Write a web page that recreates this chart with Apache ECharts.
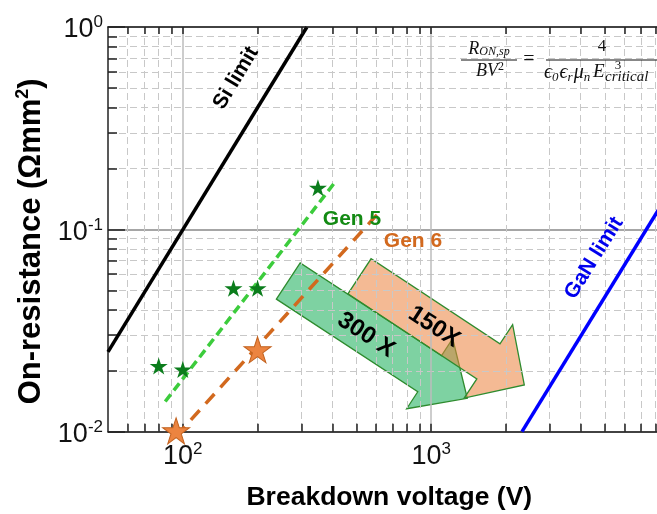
<!DOCTYPE html>
<html><head><meta charset="utf-8">
<script src="https://cdn.jsdelivr.net/npm/echarts@6/dist/echarts.min.js"></script>
<style>html,body{margin:0;padding:0;background:#fff}#c{width:657px;height:514px}</style>
</head><body><div id="c"></div>
<script>
// ---- data ----
const xMajorTicks = [100, 1000, 10000];
const xLabelTicks = [100, 1000];
const xMinorTicks = [60, 70, 80, 90, 200, 300, 400, 500, 600, 700, 800, 900, 2000, 3000, 4000, 5000, 6000, 7000, 8000, 9000];
const yMajorTicks = [0.01, 0.1, 1];
const yMinorTicks = [0.02, 0.03, 0.04, 0.05, 0.06, 0.07, 0.08, 0.09, 0.2, 0.3, 0.4, 0.5, 0.6, 0.7, 0.8, 0.9];
const siLimit = [[50, 0.0248], [316, 1.0]];
const ganLimit = [[2320, 0.01], [10000, 0.185]];
const gen5Fit = [[85, 0.0141], [407, 0.169]];
const gen6Fit = [[94, 0.0095], [604, 0.118]];
const gen5Devices = [[80, 0.0211], [100, 0.0203], [160, 0.0511], [200, 0.0511], [350, 0.1605]];
const gen6Devices = [[94, 0.0101], [200, 0.0254]];

const FONT = 'Liberation Sans, Arial, Helvetica, sans-serif';
const SERIF = 'Liberation Serif, DejaVu Serif, Times New Roman, serif';
const STAR = 'path://M50,0 L61.2,34.5 L97.6,34.5 L68.2,55.9 L79.4,90.5 L50,69.1 L20.6,90.5 L31.8,55.9 L2.4,34.5 L38.8,34.5 Z';

function powLabel(v) {
  const e = Math.round(Math.log10(v));
  return '{b|10}{s|' + e + '}';
}
const powRich = {
  b: { fontSize: 27, fontFamily: FONT, color: '#111', lineHeight: 26, padding: [6, 0, 0, 0] },
  s: { fontSize: 17, fontFamily: FONT, color: '#111', verticalAlign: 'top', lineHeight: 17 }
};

const chart = echarts.init(document.getElementById('c'), null, { renderer: 'canvas' });

const axisLine = { show: true, lineStyle: { color: '#222', width: 1.5 } };
const xRange = { type: 'log', logBase: 10, min: 50, max: 10000 };
const yRange = { type: 'log', logBase: 10, min: 0.01, max: 1 };

function blockArrow(tail, tip, shaftHW, headLen, headHW) {
  const dx = tip[0] - tail[0], dy = tip[1] - tail[1];
  const L = Math.hypot(dx, dy), ux = dx / L, uy = dy / L, px = -uy, py = ux;
  const bx = tip[0] - ux * headLen, by = tip[1] - uy * headLen;
  return [
    [tail[0] + px * shaftHW, tail[1] + py * shaftHW],
    [bx + px * shaftHW, by + py * shaftHW],
    [bx + px * headHW, by + py * headHW],
    tip,
    [bx - px * headHW, by - py * headHW],
    [bx - px * shaftHW, by - py * shaftHW],
    [tail[0] - px * shaftHW, tail[1] - py * shaftHW]
  ];
}
const deg = Math.PI / 180;

const option = {
  animation: false,
  backgroundColor: '#fff',
  grid: { left: 108, top: 27, width: 571.6, height: 404.7, containLabel: false, outerBoundsMode: 'none' },
  xAxis: [
    Object.assign({}, xRange, {
      position: 'bottom',
      axisLine: axisLine,
      axisTick: { show: true, inside: true, length: 8, customValues: xMajorTicks, lineStyle: { color: '#222', width: 1.5 } },
      axisLabel: { customValues: xLabelTicks, formatter: powLabel, rich: powRich, margin: 9 },
      splitLine: { show: true, lineStyle: { color: '#bdbdbd', width: 1.5 } },
      name: 'Breakdown voltage (V)', nameLocation: 'middle', nameGap: 52,
      nameTextStyle: { fontFamily: FONT, fontWeight: 'bold', fontSize: 26.5, color: '#000', padding: [0, 9, 0, 0] },
      z: 3
    }),
    Object.assign({}, xRange, {
      position: 'bottom',
      axisLine: { show: false },
      axisTick: { show: true, inside: true, length: 8, customValues: xMinorTicks, lineStyle: { color: '#222', width: 1.5 } },
      axisLabel: { show: false },
      splitLine: { show: true, lineStyle: { color: '#c8c8c8', width: 1, type: [7, 4] } },
      z: 3
    }),
    Object.assign({}, xRange, {
      position: 'top',
      axisLine: axisLine,
      axisTick: { show: true, inside: true, length: 7, customValues: xMajorTicks.concat(xMinorTicks), lineStyle: { color: '#222', width: 1.5 } },
      axisLabel: { show: false },
      splitLine: { show: false },
      z: 5
    })
  ],
  yAxis: [
    Object.assign({}, yRange, {
      position: 'left',
      axisLine: axisLine,
      axisTick: { show: true, inside: true, length: 17, customValues: yMajorTicks, lineStyle: { color: '#222', width: 1.5 } },
      axisLabel: { customValues: yMajorTicks, formatter: powLabel, rich: powRich, margin: 5 },
      splitLine: { show: true, lineStyle: { color: '#888', width: 1.5 } },
      name: '{t|On-resistance (Ωmm}{u|2}{t|)}', nameLocation: 'middle', nameGap: 60,
      nameTextStyle: {
        padding: [0, 24, 0, 0],
        rich: {
          t: { fontFamily: FONT, fontWeight: 'bold', fontSize: 31, color: '#000', lineHeight: 34 },
          u: { fontFamily: FONT, fontWeight: 'bold', fontSize: 18, color: '#000', verticalAlign: 'top', lineHeight: 18 }
        }
      },
      z: 3
    }),
    Object.assign({}, yRange, {
      position: 'left',
      axisLine: { show: false },
      axisTick: { show: true, inside: true, length: 9, customValues: yMinorTicks, lineStyle: { color: '#222', width: 1.5 } },
      axisLabel: { show: false },
      splitLine: { show: true, lineStyle: { color: '#c8c8c8', width: 1, type: [7, 4] } },
      z: 3
    })
  ],
  series: [
    { name: 'Si limit', type: 'line', data: siLimit, showSymbol: false, symbol: 'none',
      lineStyle: { color: '#000', width: 3.5 }, z: 4 },
    { name: 'GaN limit', type: 'line', data: ganLimit, showSymbol: false, symbol: 'none',
      lineStyle: { color: '#0000ff', width: 3.5 }, z: 4 },
    { name: 'Gen 5 fit', type: 'line', data: gen5Fit, showSymbol: false, symbol: 'none',
      lineStyle: { color: '#3ccc3c', width: 3.5, type: [9, 5] }, z: 4 },
    { name: 'Gen 6 fit', type: 'line', data: gen6Fit, showSymbol: false, symbol: 'none', clip: false,
      lineStyle: { color: '#d2691e', width: 3.5, type: [13, 9] }, z: 4 },
    { name: 'Gen 5', type: 'scatter', data: gen5Devices, symbol: STAR, symbolSize: [18, 17],
      itemStyle: { color: '#0b7d1c', opacity: 1 }, z: 5 },
    { name: 'Gen 6', type: 'scatter', data: gen6Devices, symbol: STAR, symbolSize: [27, 26],
      itemStyle: { color: '#ec8440', borderColor: '#c2621f', borderWidth: 1, opacity: 1 }, z: 5 }
  ],
  graphic: [
    // formula box
    { type: 'rect', z: 1, shape: { x: 458, y: 34, width: 210, height: 52 }, style: { fill: '#fff' } },
    { type: 'text', z: 6, x: 489, y: 49, style: { text: '{i|R}{d|ON,sp}', align: 'center', verticalAlign: 'middle',
      rich: { i: { fontFamily: SERIF, fontStyle: 'italic', fontSize: 18, fill: '#111' },
              d: { fontFamily: SERIF, fontStyle: 'italic', fontSize: 12, fill: '#111', verticalAlign: 'bottom', lineHeight: 12, padding: [8, 0, 0, 0] } } } },
    { type: 'line', z: 6, shape: { x1: 461, y1: 60, x2: 517, y2: 60 }, style: { stroke: '#111', lineWidth: 1 } },
    { type: 'text', z: 6, x: 490, y: 71, style: { text: '{i|BV}{u|2}', align: 'center', verticalAlign: 'middle',
      rich: { i: { fontFamily: SERIF, fontStyle: 'italic', fontSize: 18, fill: '#111', lineHeight: 20 },
              u: { fontFamily: SERIF, fontSize: 12, fill: '#111', verticalAlign: 'top', lineHeight: 12 } } } },
    { type: 'text', z: 6, x: 529, y: 60, style: { text: '=', font: '20px ' + SERIF, fill: '#111', align: 'center', verticalAlign: 'middle' } },
    { type: 'text', z: 6, x: 602, y: 47, style: { text: '4', font: '17px ' + SERIF, fill: '#111', align: 'center', verticalAlign: 'middle' } },
    { type: 'line', z: 6, shape: { x1: 546, y1: 60, x2: 665, y2: 60 }, style: { stroke: '#111', lineWidth: 1 } },
    { type: 'text', z: 6, x: 544, y: 73, style: { text: '{i|ϵ}{d|0}{i|ϵ}{d|r}{i|μ}{d|n}', align: 'left', verticalAlign: 'middle',
      rich: { i: { fontFamily: SERIF, fontStyle: 'italic', fontSize: 20, fill: '#111', lineHeight: 22 },
              d: { fontFamily: SERIF, fontStyle: 'italic', fontSize: 13, fill: '#111', verticalAlign: 'bottom', lineHeight: 14, padding: [0, 1, 0, 0] } } } },
    { type: 'text', z: 6, x: 593, y: 72, style: { text: 'E', font: 'italic 19px ' + SERIF, fill: '#111', align: 'left', verticalAlign: 'middle' } },
    { type: 'text', z: 6, x: 618, y: 66, style: { text: '3', font: '13px ' + SERIF, fill: '#111', align: 'center', verticalAlign: 'middle' } },
    { type: 'text', z: 6, x: 605, y: 77, style: { text: 'critical', font: 'italic 15px ' + SERIF, fill: '#111', align: 'left', verticalAlign: 'middle' } },
    // arrows
    { type: 'polygon', z: 1, shape: { points: blockArrow([288.3, 281], [467.3, 398.3], 21.7, 45, 42) },
      style: { fill: 'rgba(40,180,100,0.6)', stroke: '#2e8b2e', lineWidth: 1.3 } },
    { type: 'polygon', z: 1, shape: { points: blockArrow([359.5, 276.3], [524.3, 385], 21, 43, 44) },
      style: { fill: 'rgba(235,130,60,0.55)', stroke: '#2e8b2e', lineWidth: 1.3 } },
    { type: 'text', z: 6, x: 366, y: 335, rotation: -33 * deg, style: { text: '300 X', font: 'bold 24px ' + FONT, fill: '#000', align: 'center', verticalAlign: 'middle' } },
    { type: 'text', z: 6, x: 434, y: 327, rotation: -33 * deg, style: { text: '150X', font: 'bold 24px ' + FONT, fill: '#000', align: 'center', verticalAlign: 'middle' } },
    // labels
    { type: 'text', z: 6, x: 236, y: 78, rotation: 59 * deg, style: { text: 'Si limit', font: 'bold 21px ' + FONT, fill: '#000', align: 'center', verticalAlign: 'middle' } },
    { type: 'text', z: 6, x: 594, y: 258, rotation: 58 * deg, style: { text: 'GaN limit', font: 'bold 21px ' + FONT, fill: '#0000ee', align: 'center', verticalAlign: 'middle' } },
    { type: 'text', z: 6, x: 352, y: 219, style: { text: 'Gen 5', font: 'bold 21px ' + FONT, fill: '#138a13', align: 'center', verticalAlign: 'middle' } },
    { type: 'text', z: 6, x: 413, y: 241, style: { text: 'Gen 6', font: 'bold 21px ' + FONT, fill: '#d2691e', align: 'center', verticalAlign: 'middle' } }
  ]
};
chart.setOption(option);
</script>
</body></html>
